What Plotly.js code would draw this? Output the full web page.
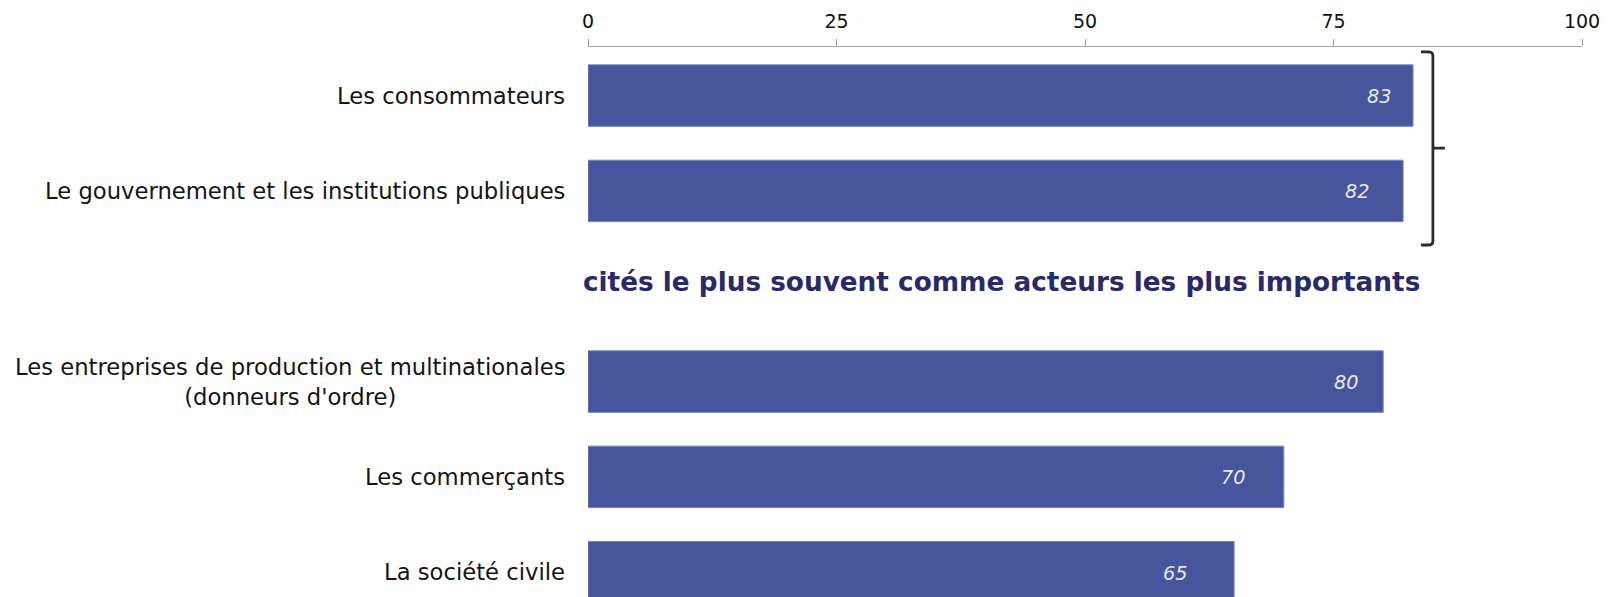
<!DOCTYPE html>
<html>
<head>
<meta charset="utf-8">
<script src="https://cdn.plot.ly/plotly-3.0.1.min.js"></script>
<style>
  html, body { margin: 0; padding: 0; background: #ffffff; }
  #chart { width: 1618px; height: 597px; }
</style>
</head>
<body>
<div id="chart"></div>
<script>
// ---- data ----
const categories = [
  "Les consommateurs",
  "Le gouvernement et les institutions publiques",
  "Les entreprises de production et multinationales<br>(donneurs d'ordre)",
  "Les commerçants",
  "La société civile"
];
const values = [83, 82, 80, 70, 65];
const spacer = " ";
const slotOrder = [categories[0], categories[1], spacer, categories[2], categories[3], categories[4]];
const tickVals = [0, 25, 50, 75, 100];
const tickText = ["0", "25", "50", "75", "100"];
const captionText = "cités le plus souvent comme acteurs les plus importants";

// ---- styles ----
const barColor = "#46559c";
const labelFont = { family: "DejaVu Sans", size: 22.7, color: "#151515" };
const valueFont = { family: "DejaVu Sans", size: 19.3, color: "#e8e8f2", style: "italic" };
const valueLabelShift = [-19, -31, -22, -36, -44];   // pixel offsets of the value labels from bar ends

const trace = {
  type: "bar",
  orientation: "h",
  y: categories,
  x: values,
  width: 0.645,
  marker: { color: barColor, line: { color: "#7884c0", width: 1 } },
  hoverinfo: "skip",
  showlegend: false
};

const annotations = [];
categories.forEach((c, i) => {
  annotations.push({
    xref: "paper", x: 0, xanchor: "right", xshift: -21,
    yref: "y", y: c, yanchor: "middle",
    text: c, showarrow: false, align: "center", font: labelFont
  });
  annotations.push({
    xref: "x", x: values[i], xanchor: "right", xshift: valueLabelShift[i],
    yref: "y", y: c, yanchor: "middle", yshift: -1,
    text: String(values[i]), showarrow: false, font: valueFont
  });
});
annotations.push({
  xref: "paper", x: 0.4155, xanchor: "center",
  yref: "y", y: spacer, yanchor: "middle", yshift: 4,
  text: "<b>" + captionText + "</b>", showarrow: false,
  font: { family: "DejaVu Sans", size: 26.3, color: "#2a2a68" }
});

const layout = {
  width: 1618, height: 597,
  margin: { l: 588, r: 36, t: 47, b: 0, pad: 0 },
  paper_bgcolor: "#ffffff", plot_bgcolor: "#ffffff",
  bargap: 0.35,
  xaxis: {
    side: "top", range: [0, 100], autorange: false,
    tickmode: "array", tickvals: tickVals, ticktext: tickText,
    ticks: "outside", ticklen: 7, tickwidth: 1, tickcolor: "#9a9a9a",
    ticklabelstandoff: 3,
    showline: true, linecolor: "#a6a6a6", linewidth: 1.5,
    showgrid: false, zeroline: false,
    tickfont: { family: "DejaVu Sans", size: 19, color: "#111111" },
    fixedrange: true
  },
  yaxis: {
    type: "category", categoryorder: "array", categoryarray: slotOrder,
    range: [5.26, -0.51], autorange: false,
    showticklabels: false, showgrid: false, zeroline: false, showline: false, ticks: "",
    fixedrange: true
  },
  annotations: annotations,
  shapes: [{
    type: "path", xref: "paper", yref: "paper",
    path: "M 0.838,0.991 L 0.845,0.991 Q 0.850,0.991 0.850,0.984 L 0.850,0.647 Q 0.850,0.640 0.845,0.640 L 0.838,0.640 M 0.850,0.816 L 0.862,0.816",
    line: { color: "#2b2b2b", width: 2.8 }
  }]
};

Plotly.newPlot("chart", [trace], layout, { displayModeBar: false, staticPlot: true });
</script>
</body>
</html>
